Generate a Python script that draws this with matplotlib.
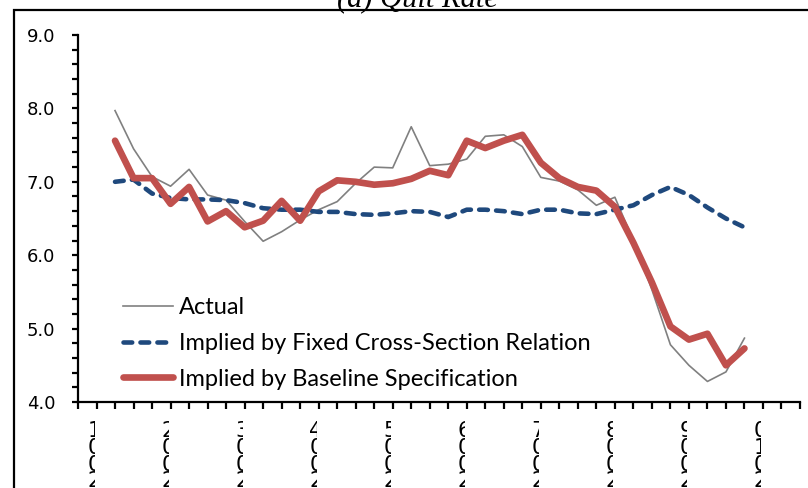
import matplotlib
matplotlib.use("Agg")
import matplotlib.pyplot as plt
from matplotlib.patches import Rectangle
from matplotlib.transforms import Bbox, TransformedBbox, blended_transform_factory
from matplotlib.ticker import MultipleLocator, FormatStrFormatter

# ---- data (quarterly, x index 2..36 on a 0..39 category axis) ----
year_labels = ["2001", "2002", "2003", "2004", "2005", "2006", "2007", "2008", "2009", "2010"]
x_index = list(range(2, 37))
actual = [7.97, 7.45, 7.07, 6.94, 7.17, 6.82, 6.75, 6.46, 6.19, 6.32, 6.48, 6.62,
          6.73, 6.98, 7.20, 7.19, 7.75, 7.22, 7.24, 7.31, 7.62, 7.64, 7.48, 7.06,
          7.01, 6.89, 6.68, 6.79, 6.20, 5.53, 4.78, 4.50, 4.28, 4.41, 4.87]
fixed_cs = [7.00, 7.03, 6.84, 6.78, 6.76, 6.76, 6.75, 6.71, 6.64, 6.62, 6.62, 6.59,
            6.59, 6.56, 6.55, 6.57, 6.60, 6.59, 6.52, 6.62, 6.62, 6.60, 6.56, 6.62,
            6.62, 6.57, 6.56, 6.62, 6.68, 6.82, 6.93, 6.82, 6.65, 6.50, 6.38]
baseline = [7.56, 7.05, 7.05, 6.70, 6.93, 6.46, 6.60, 6.38, 6.47, 6.74, 6.47, 6.87,
            7.02, 7.00, 6.96, 6.98, 7.04, 7.15, 7.09, 7.56, 7.46, 7.56, 7.64, 7.26,
            7.05, 6.93, 6.88, 6.66, 6.17, 5.63, 5.03, 4.85, 4.93, 4.50, 4.73]
series_names = ["Actual", "Implied by Fixed Cross-Section Relation",
                "Implied by Baseline Specification"]
title = "(a) Quit Rate"

W, H = 808, 488
fig = plt.figure(figsize=(W / 100, H / 100), dpi=100)
ax = fig.add_axes([78 / W, 86 / H, 722 / W, 367 / H])

ax.plot(x_index, actual, color="#808080", lw=1.2, label=series_names[0], zorder=2)
ax.plot(x_index, fixed_cs, color="#1F497D", lw=3.3, linestyle=(0, (1.9, 1.8)),
        dash_capstyle="round", label=series_names[1], zorder=3)
ax.plot(x_index, baseline, color="#C0504D", lw=4.8, solid_capstyle="round",
        solid_joinstyle="round", label=series_names[2], zorder=4)

ax.set_xlim(0, 39)
ax.set_ylim(4, 9)
ax.set_xticks(range(0, 40))
ax.set_xticklabels([])
ax.yaxis.set_major_locator(MultipleLocator(1.0))
ax.yaxis.set_minor_locator(MultipleLocator(0.2))
ax.yaxis.set_major_formatter(FormatStrFormatter("%.1f"))

for s in ["top", "right"]:
    ax.spines[s].set_visible(False)
for s in ["left", "bottom"]:
    ax.spines[s].set_linewidth(1.6)
    ax.spines[s].set_color("black")

ax.tick_params(axis="y", which="both", direction="out", length=4.5, width=1.6,
               labelsize=13, pad=12, colors="black")
ax.tick_params(axis="x", which="major", direction="out", length=5, width=1.6)
for lab in ax.get_yticklabels():
    lab.set_fontfamily("DejaVu Sans")

# stacked, clipped year labels (as rendered in the reference)
bt = blended_transform_factory(ax.transData, fig.transFigure)
for i, yl in enumerate(year_labels):
    k = 0.50 + 4 * i
    stacked = "\n".join(reversed(yl))
    t = ax.text(k, (H - 421) / H, stacked, transform=bt, ha="left", va="top",
                fontsize=15, family="DejaVu Sans", color="black",
                linespacing=0.8)
    clip = TransformedBbox(Bbox([[k, 0.0], [k + 0.40, 1.0]]), bt)
    t.set_clip_box(clip)
    t.set_clip_on(True)

leg = ax.legend(loc="upper left", bbox_to_anchor=(45 / 722, (402 - 297) / 367),
                frameon=False, prop={"family": "Lato", "size": 17},
                handlelength=2.12, handletextpad=0.25, labelspacing=0.63,
                borderpad=0, borderaxespad=0)

# outer frame
fig.add_artist(Rectangle((13.5 / W, -0.1), 1.2, (H - 10) / H + 0.1,
                         transform=fig.transFigure, fill=False, lw=1.6,
                         edgecolor="black", clip_on=False))

fig.text(417 / W, (H - 6) / H, title, ha="center", va="baseline",
         family="Liberation Serif", style="italic", fontsize=22)

fig.savefig("out.png", dpi=100)
